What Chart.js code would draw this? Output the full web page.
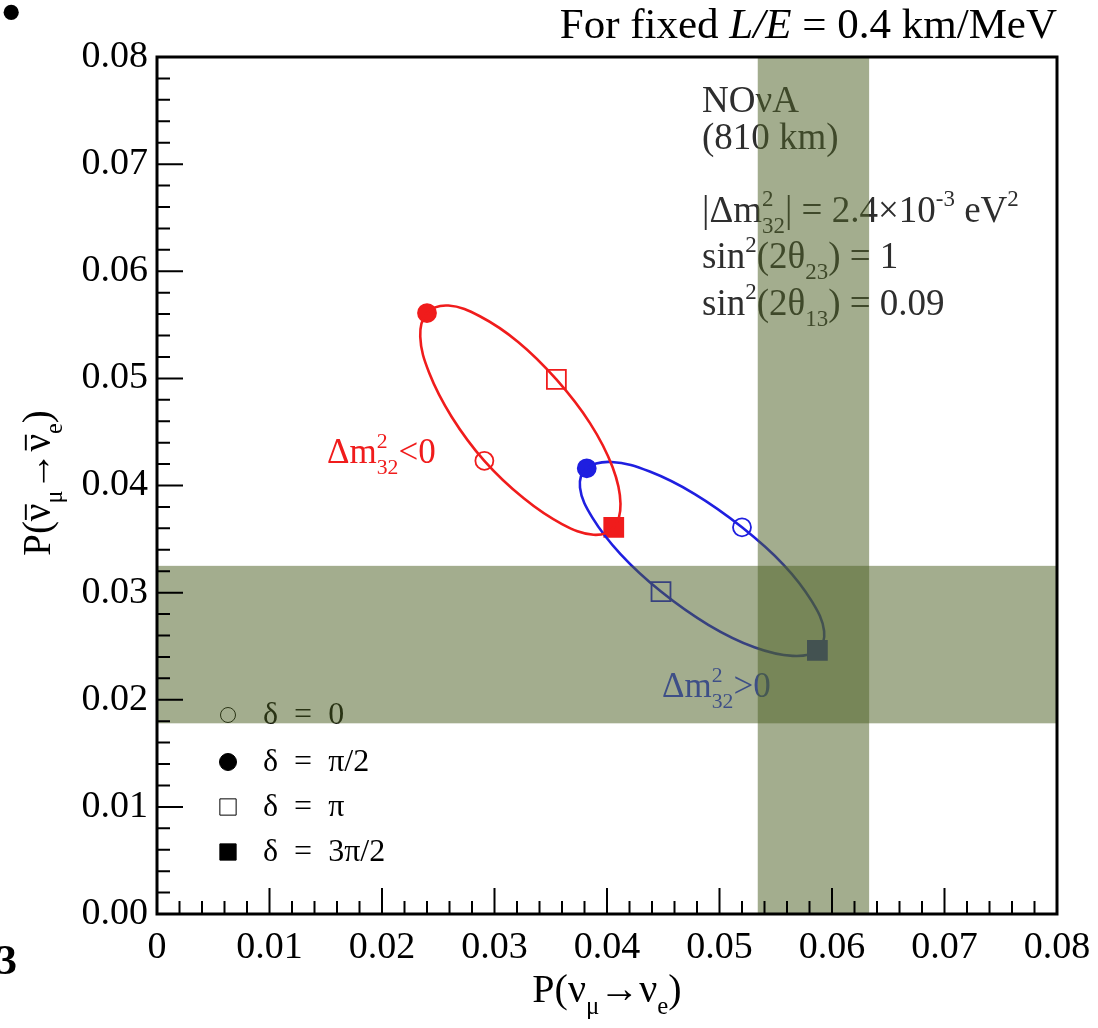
<!DOCTYPE html>
<html>
<head>
<meta charset="utf-8">
<script src="https://cdn.jsdelivr.net/npm/chart.js@4.4.1/dist/chart.umd.min.js"></script>
<style>
  html, body { margin: 0; padding: 0; background: #fff; }
  #wrap { width: 1098px; height: 1028px; }
</style>
</head>
<body>
<div id="wrap"><canvas id="grafica" width="1098" height="1028"></canvas></div>
<script>
// tick labels
const ejeX = [0, 0.01, 0.02, 0.03, 0.04, 0.05, 0.06, 0.07, 0.08];
const ejeY = [0, 0.01, 0.02, 0.03, 0.04, 0.05, 0.06, 0.07, 0.08];

// points read along each ellipse (delta = 0 ... 15pi/8)
const invertidaX = [0.0291, 0.0262, 0.0242, 0.0234, 0.0240, 0.0259, 0.0287, 0.0321,
                    0.0355, 0.0385, 0.0405, 0.0412, 0.0406, 0.0388, 0.0360, 0.0326];
const invertidaY = [0.0423, 0.0464, 0.0505, 0.0539, 0.0561, 0.0568, 0.0558, 0.0534,
                    0.0499, 0.0458, 0.0417, 0.0383, 0.0361, 0.0354, 0.0364, 0.0388];
const normalX = [0.0520, 0.0478, 0.0438, 0.0404, 0.0382, 0.0376, 0.0387, 0.0412,
                 0.0448, 0.0490, 0.0531, 0.0565, 0.0587, 0.0593, 0.0582, 0.0557];
const normalY = [0.0361, 0.0392, 0.0413, 0.0422, 0.0416, 0.0398, 0.0370, 0.0336,
                 0.0301, 0.0270, 0.0249, 0.0241, 0.0246, 0.0264, 0.0292, 0.0326];

// marked delta values: 0, pi/2, pi, 3pi/2
const deltas = ['δ = 0', 'δ = π/2', 'δ = π', 'δ = 3π/2'];
const marcasInvX = [0.0291, 0.0240, 0.0355, 0.0406];
const marcasInvY = [0.0423, 0.0561, 0.0499, 0.0361];
const marcasNorX = [0.0520, 0.0382, 0.0448, 0.0587];
const marcasNorY = [0.0361, 0.0416, 0.0301, 0.0246];

// NOvA bands
const bandaNu = [0.0534, 0.0633];
const bandaNuBar = [0.0178, 0.0325];

const ROJO = '#f01c1c';
const AZUL = '#1f1fe0';
const BANDA = 'rgba(78,97,38,0.52)';
const SERIF = "'Liberation Serif', 'DejaVu Serif', serif";
const estilos = ['circle', 'circle', 'rect', 'rect'];
const rellenos = [false, true, false, true];

function cerrarCurva(xs, ys) {
  const n = xs.length;
  const idx = [n - 1, ...xs.map((_, i) => i), 0, 1];
  return idx.map(i => ({ x: xs[i], y: ys[i] }));
}

function curva(xs, ys, color) {
  const pts = cerrarCurva(xs, ys);
  const ult = pts.length - 1;
  return {
    type: 'scatter', showLine: true, data: pts,
    borderColor: color, borderWidth: 2.6, pointRadius: 0, tension: 0.38, fill: false,
    segment: {
      borderColor: c => (c.p0DataIndex === 0 || c.p1DataIndex === ult) ? 'rgba(0,0,0,0)' : color
    }
  };
}

function marcas(xs, ys, color) {
  return {
    type: 'scatter', showLine: false,
    data: xs.map((x, i) => ({ x, y: ys[i] })),
    pointStyle: estilos,
    pointRadius: [9, 9, 13.4, 13.4],
    pointHoverRadius: [9, 9, 13.4, 13.4],
    backgroundColor: rellenos.map(f => f ? color : 'rgba(0,0,0,0)'),
    borderColor: color,
    borderWidth: 1.8
  };
}

// texto con sub/superindices
function textoRico(ctx, partes, x, y, size, color, align) {
  const f = s => `${s}px ${SERIF}`;
  const medir = () => {
    let w = 0, pend = 0;
    partes.forEach(([t, m]) => {
      const s = (m === 'sub' || m === 'sup' || m === 'supS') ? size * 0.62 : size;
      ctx.font = f(s);
      const tw = ctx.measureText(t).width;
      if (m === 'supS') { pend = tw; return; }
      if (m === 'sub' && pend) { w += Math.max(pend, tw); pend = 0; return; }
      w += tw;
    });
    return w;
  };
  let cx = x;
  if (align === 'center') cx = x - medir() / 2;
  else if (align === 'right') cx = x - medir();
  ctx.fillStyle = color;
  ctx.strokeStyle = color;
  ctx.textAlign = 'left';
  ctx.textBaseline = 'alphabetic';
  let pend = 0;
  partes.forEach(([t, m]) => {
    let s = size, dy = 0;
    if (m === 'sub') { s = size * 0.62; dy = size * 0.3; }
    if (m === 'sup' || m === 'supS') { s = size * 0.62; dy = -size * 0.42; }
    ctx.font = f(s);
    const tw = ctx.measureText(t).width;
    ctx.fillText(t, cx, y + dy);
    if (m === 'bar') {
      ctx.lineWidth = size * 0.05;
      ctx.beginPath();
      ctx.moveTo(cx + size * 0.03, y - size * 0.62);
      ctx.lineTo(cx + tw - size * 0.02, y - size * 0.62);
      ctx.stroke();
    }
    if (m === 'supS') { pend = tw; return; }
    if (m === 'sub' && pend) { cx += Math.max(pend, tw); pend = 0; return; }
    cx += tw;
  });
}

const decorado = {
  id: 'decorado',
  afterDatasetsDraw(chart) {
    const { ctx, chartArea: a, scales: { x, y } } = chart;
    ctx.save();

    // etiquetas de las curvas
    textoRico(ctx, [['Δm', ''], ['2', 'supS'], ['32', 'sub'], ['<0', '']], 327, 463, 35, ROJO);
    textoRico(ctx, [['Δm', ''], ['2', 'supS'], ['32', 'sub'], ['>0', '']], 662, 697, 35, '#2c3cf0');

    // parametros
    const gris = '#2e2e2e';
    const x0 = 702;
    textoRico(ctx, [['NOνA', '']], x0, 112, 37, gris);
    textoRico(ctx, [['(810 km)', '']], x0, 149, 37, gris);
    textoRico(ctx, [['|Δm', ''], ['2', 'supS'], ['32', 'sub'], ['| = 2.4×10', ''], ['-3', 'sup'], [' eV', ''], ['2', 'sup']], x0, 222, 37, gris);
    textoRico(ctx, [['sin', ''], ['2', 'sup'], ['(2θ', ''], ['23', 'sub'], [') = 1', '']], x0, 268, 37, gris);
    textoRico(ctx, [['sin', ''], ['2', 'sup'], ['(2θ', ''], ['13', 'sub'], [') = 0.09', '']], x0, 315, 37, gris);

    // leyenda
    const filas = [715, 762, 807, 852];
    const radios = [7.5, 8.5, 11.5, 11.5];
    deltas.forEach((d, i) => {
      ctx.fillStyle = rellenos[i] ? '#000' : 'rgba(0,0,0,0)';
      ctx.strokeStyle = '#000';
      Chart.helpers.drawPoint(ctx, { pointStyle: estilos[i], radius: radios[i], borderWidth: 1.5, rotation: 0 }, 228, filas[i]);
      ctx.fillStyle = '#000';
      ctx.font = `32px ${SERIF}`;
      ctx.textAlign = 'left';
      ctx.textBaseline = 'middle';
      ctx.fillText(d.replace(/ = /, '\u2002=\u2002'), 263, filas[i] + 1);
    });

    // bandas NOvA
    ctx.fillStyle = BANDA;
    const bx1 = x.getPixelForValue(bandaNu[0]), bx2 = x.getPixelForValue(bandaNu[1]);
    ctx.fillRect(bx1, a.top, bx2 - bx1, a.bottom - a.top);
    const by1 = y.getPixelForValue(bandaNuBar[1]), by2 = y.getPixelForValue(bandaNuBar[0]);
    ctx.fillRect(a.left, by1, a.right - a.left, by2 - by1);

    // marcas de los ejes
    ctx.strokeStyle = '#000';
    ctx.lineWidth = 2;
    ctx.beginPath();
    for (let i = 0; i < ejeX.length - 1; i++) {
      for (let k = 0; k < 5; k++) {
        const v = ejeX[i] + (ejeX[i + 1] - ejeX[i]) * k / 5;
        const px = x.getPixelForValue(v);
        const len = k === 0 ? 26 : 13;
        ctx.moveTo(px, a.bottom);
        ctx.lineTo(px, a.bottom - len);
      }
    }
    for (let i = 0; i < ejeY.length - 1; i++) {
      for (let k = 0; k < 5; k++) {
        const v = ejeY[i] + (ejeY[i + 1] - ejeY[i]) * k / 5;
        const py = y.getPixelForValue(v);
        const len = k === 0 ? 26 : 13;
        ctx.moveTo(a.left, py);
        ctx.lineTo(a.left + len, py);
      }
    }
    ctx.stroke();

    ctx.lineWidth = 3;
    ctx.strokeRect(a.left, a.top, a.right - a.left, a.bottom - a.top);
    ctx.restore();
  },
  afterDraw(chart) {
    const { ctx } = chart;
    ctx.save();
    textoRico(ctx, [['P(', ''], ['ν', ''], ['μ', 'sub'], ['→', ''], ['ν', ''], ['e', 'sub'], [')', '']], 607, 1002, 40, '#000', 'center');
    ctx.translate(50, 483);
    ctx.rotate(-Math.PI / 2);
    textoRico(ctx, [['P(', ''], ['ν', 'bar'], ['μ', 'sub'], ['→', ''], ['ν', 'bar'], ['e', 'sub'], [')', '']], 0, 0, 39, '#000', 'center');
    ctx.restore();

    ctx.save();
    ctx.fillStyle = '#000';
    ctx.textBaseline = 'alphabetic';
    ctx.textAlign = 'right';
    ctx.font = `43px ${SERIF}`;
    const resto = ' = 0.4 km/MeV';
    ctx.fillText(resto, 1057, 38);
    let xr = 1057 - ctx.measureText(resto).width;
    ctx.font = `italic 43px ${SERIF}`;
    ctx.fillText('L/E', xr, 38);
    xr -= ctx.measureText('L/E').width;
    ctx.font = `43px ${SERIF}`;
    ctx.fillText('For fixed ', xr, 38);

    ctx.textAlign = 'left';
    ctx.font = `64px ${SERIF}`;
    ctx.fillText('•', 0, 34);
    ctx.font = `bold 42px ${SERIF}`;
    ctx.fillText('3', -4, 974);
    ctx.restore();
  }
};

const fuenteTicks = { family: SERIF, size: 38 };

new Chart(document.getElementById('grafica').getContext('2d'), {
  type: 'scatter',
  data: {
    datasets: [
      curva(invertidaX, invertidaY, ROJO),
      curva(normalX, normalY, AZUL),
      marcas(marcasInvX, marcasInvY, ROJO),
      marcas(marcasNorX, marcasNorY, AZUL)
    ]
  },
  options: {
    responsive: false,
    animation: false,
    layout: { padding: { top: 57, right: 41, left: 0, bottom: 0 } },
    plugins: { legend: { display: false }, tooltip: { enabled: false } },
    scales: {
      x: {
        type: 'linear', min: 0, max: 0.08,
        afterBuildTicks: s => { s.ticks = ejeX.map(v => ({ value: v })); },
        afterFit: s => { s.height = 114; s.paddingLeft = 0; s.paddingRight = 0; },
        ticks: { font: fuenteTicks, color: '#000', padding: 11, maxRotation: 0,
                 callback: v => v === 0 ? '0' : v.toFixed(2) },
        grid: { display: false, drawTicks: false },
        border: { display: false }
      },
      y: {
        type: 'linear', min: 0, max: 0.08,
        afterBuildTicks: s => { s.ticks = ejeY.map(v => ({ value: v })); },
        afterFit: s => { s.width = 157; s.paddingTop = 0; s.paddingBottom = 0; },
        ticks: { font: fuenteTicks, color: '#000', padding: 9,
                 callback: v => v.toFixed(2) },
        grid: { display: false, drawTicks: false },
        border: { display: false }
      }
    }
  },
  plugins: [decorado]
});
</script>
</body>
</html>
